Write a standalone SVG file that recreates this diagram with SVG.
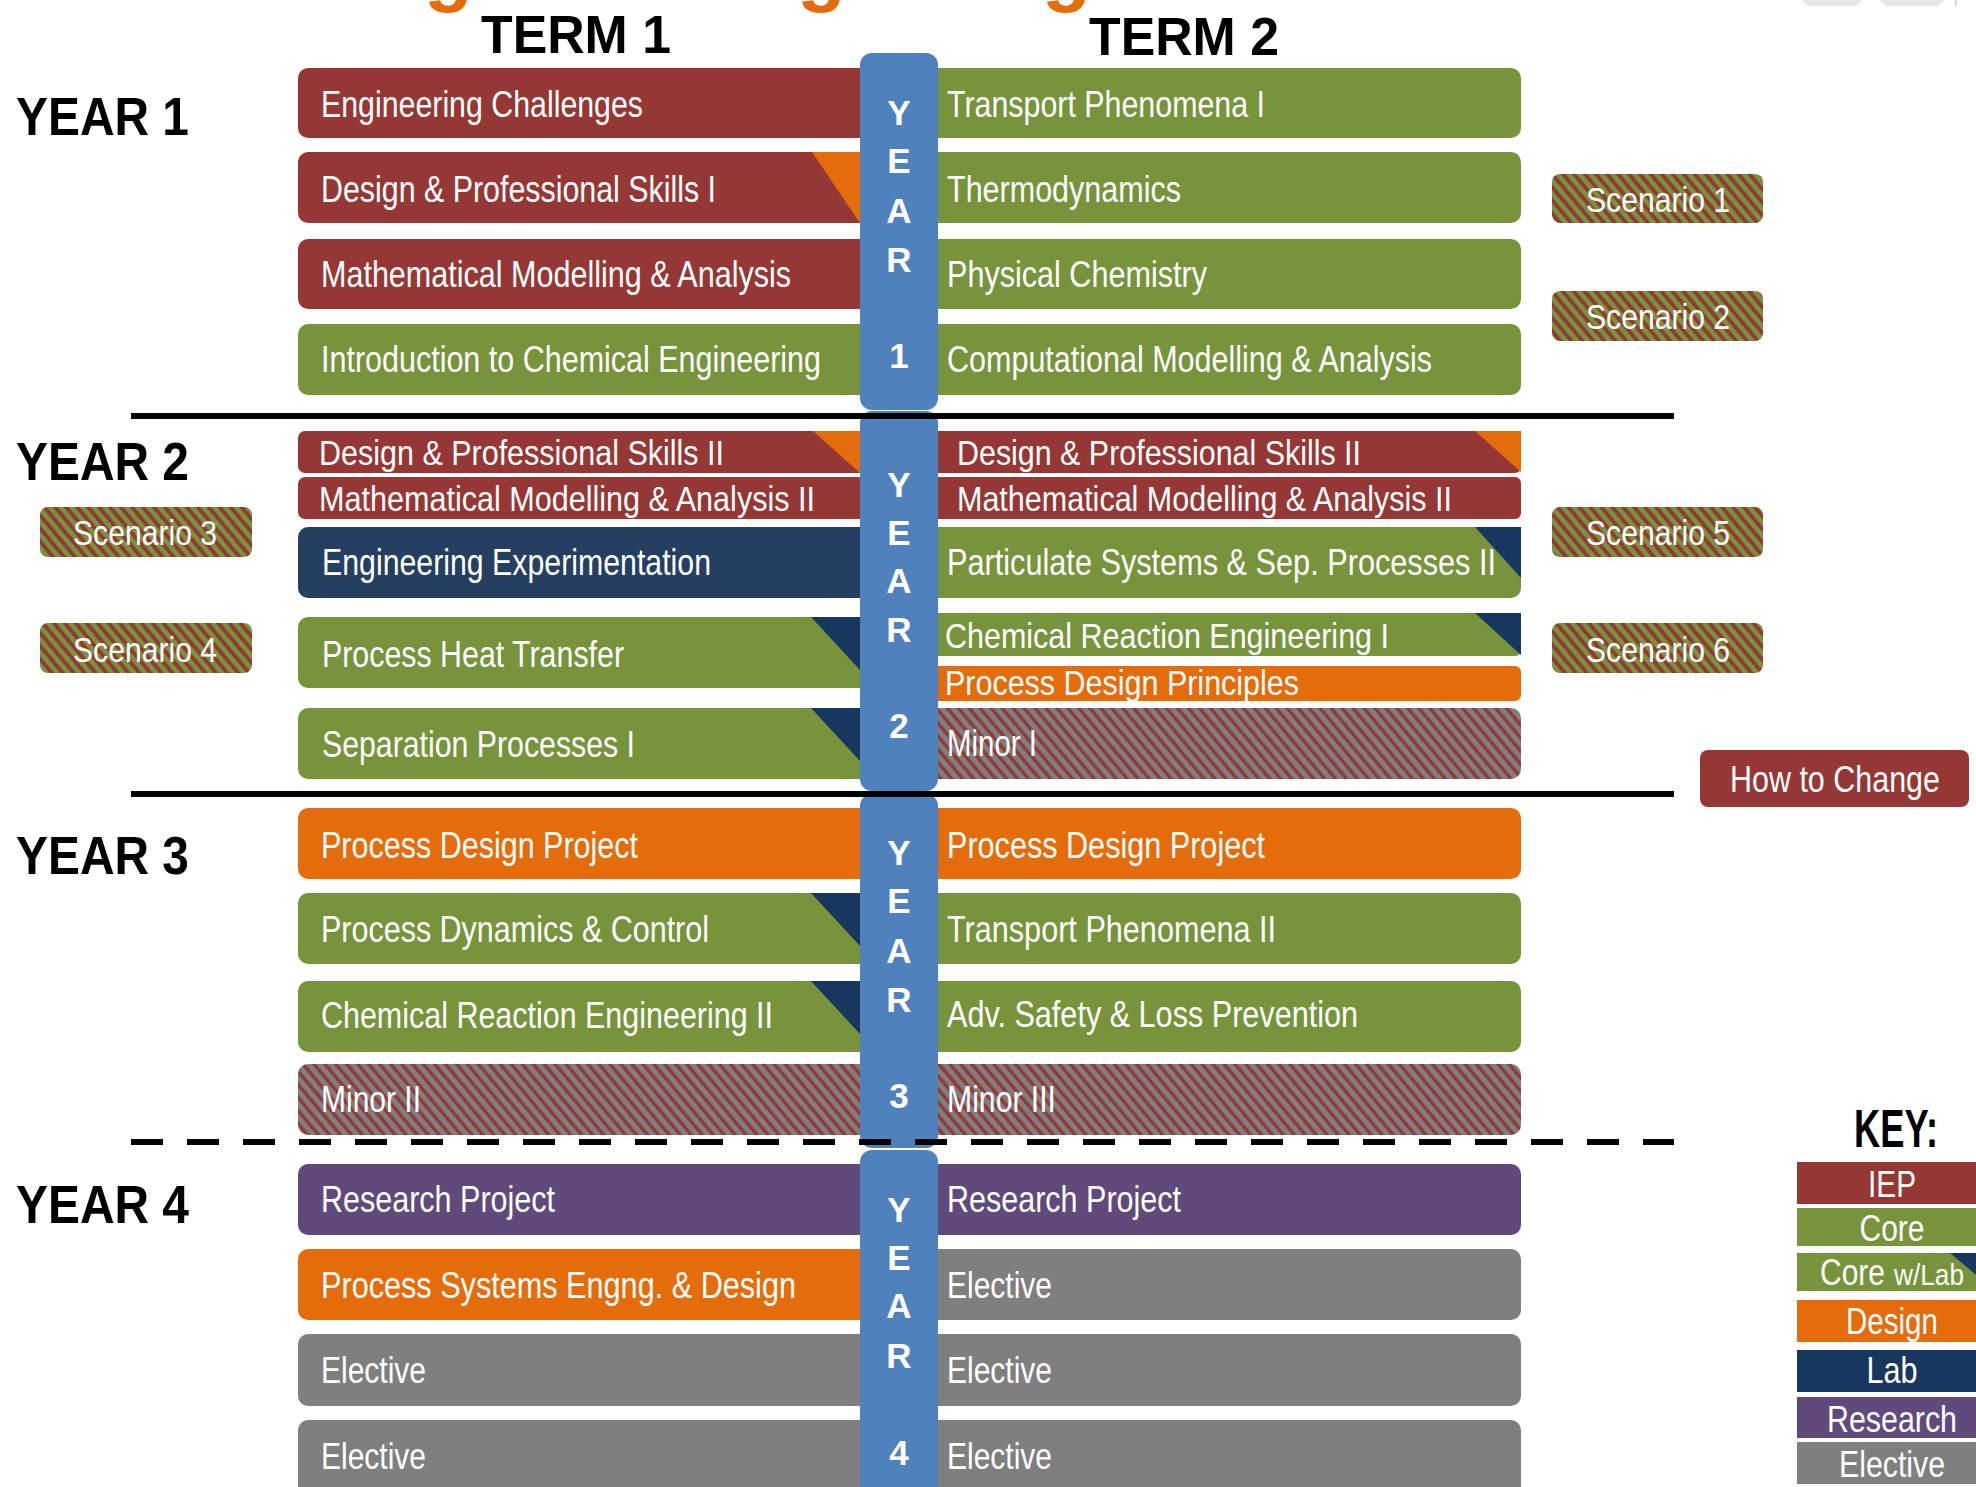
<svg xmlns="http://www.w3.org/2000/svg" width="1976" height="1487" viewBox="0 0 1976 1487">
<style>
.t{font-family:"Liberation Sans",Arial,sans-serif;fill:#fff;font-size:37px}
.s{font-size:35px}
.h{font-family:"Liberation Sans",Arial,sans-serif;font-weight:bold;fill:#000;font-size:53px}
.yl{font-family:"Liberation Sans",Arial,sans-serif;font-weight:bold;fill:#fff;font-size:35px;text-anchor:middle}
.kc{text-anchor:middle}
.red{fill:#953735}.grn{fill:#77933C}.org{fill:#E46C0A}.nav{fill:#17375E}.nav2{fill:#243F60}.pur{fill:#604A7B}.gry{fill:#7F7F7F}.col{fill:#4F81BD}
.sep{stroke:#000;stroke-width:6;fill:none}
</style>
<defs>
<pattern id="hMinor" patternUnits="userSpaceOnUse" width="8.4" height="10" patternTransform="rotate(-40)"><rect width="8.4" height="10" fill="#7F7F7F"/><rect width="3.4" height="10" fill="#953735"/></pattern>
<pattern id="hScen" patternUnits="userSpaceOnUse" width="8.4" height="10" patternTransform="rotate(-40)"><rect width="8.4" height="10" fill="#77933C"/><rect width="3.8" height="10" fill="#953735"/></pattern>
</defs>
<rect width="1976" height="1487" fill="#fff"/>
<!-- partial title glyphs and UI remnants at top -->
<g id="title-fragment" fill="#E46C0A" font-family="Liberation Sans,Arial,sans-serif" font-weight="bold" font-size="80">
<text x="424" y="-4">g</text><text x="797" y="-4">g</text><text x="1042" y="-4">g</text>
</g>
<g id="top-ui" fill="#e6e6e6">
<path d="M1802 0 L1808 6 H1856 L1862 0Z"/><path d="M1880 0 L1886 6 H1938 L1944 0Z"/><rect x="1955" y="0" width="1.5" height="6" fill="#ccc"/>
</g>
<!-- headers -->
<g id="headers">
<text class="h" x="481" y="53" textLength="190" lengthAdjust="spacingAndGlyphs">TERM 1</text>
<text class="h" x="1089" y="55" textLength="190" lengthAdjust="spacingAndGlyphs">TERM 2</text>
<text class="h" x="16" y="135" textLength="173" lengthAdjust="spacingAndGlyphs">YEAR 1</text>
<text class="h" x="16" y="480" textLength="173" lengthAdjust="spacingAndGlyphs">YEAR 2</text>
<text class="h" x="16" y="874" textLength="173" lengthAdjust="spacingAndGlyphs">YEAR 3</text>
<text class="h" x="16" y="1223" textLength="173" lengthAdjust="spacingAndGlyphs">YEAR 4</text>
</g>
<!-- TERM 1 cards -->
<g id="y1t1-1"><rect class="red" x="298" y="68" width="590" height="70" rx="10"/><text class="t" x="321" y="117" textLength="322" lengthAdjust="spacingAndGlyphs">Engineering Challenges</text></g>
<g id="y1t1-2"><rect class="red" x="298" y="152" width="590" height="71" rx="10"/><polygon class="org" points="812,152 888,152 888,223 860,223"/><text class="t" x="321" y="202" textLength="395" lengthAdjust="spacingAndGlyphs">Design &amp; Professional Skills I</text></g>
<g id="y1t1-3"><rect class="red" x="298" y="239" width="590" height="70" rx="10"/><text class="t" x="321" y="287" textLength="470" lengthAdjust="spacingAndGlyphs">Mathematical Modelling &amp; Analysis</text></g>
<g id="y1t1-4"><rect class="grn" x="298" y="324" width="590" height="71" rx="10"/><text class="t" x="321" y="372" textLength="500" lengthAdjust="spacingAndGlyphs">Introduction to Chemical Engineering</text></g>

<g id="y2t1-1"><rect class="red" x="298" y="431" width="590" height="42" rx="7"/><polygon class="org" points="813,431 888,431 888,473 860,473"/><text class="t s" x="319" y="465" textLength="405" lengthAdjust="spacingAndGlyphs">Design &amp; Professional Skills II</text></g>
<g id="y2t1-2"><rect class="red" x="298" y="477" width="590" height="42" rx="7"/><text class="t s" x="319" y="511" textLength="496" lengthAdjust="spacingAndGlyphs">Mathematical Modelling &amp; Analysis II</text></g>
<g id="y2t1-3"><rect class="nav2" x="298" y="527" width="590" height="71" rx="10"/><text class="t" x="322" y="575" textLength="389" lengthAdjust="spacingAndGlyphs">Engineering Experimentation</text></g>
<g id="y2t1-4"><rect class="grn" x="298" y="617" width="590" height="71" rx="10"/><polygon class="nav" points="811,617 888,617 888,688 860,670"/><text class="t" x="322" y="667" textLength="302" lengthAdjust="spacingAndGlyphs">Process Heat Transfer</text></g>
<g id="y2t1-5"><rect class="grn" x="298" y="708" width="590" height="71" rx="10"/><polygon class="nav" points="811,708 888,708 888,779 860,761"/><text class="t" x="322" y="757" textLength="313" lengthAdjust="spacingAndGlyphs">Separation Processes I</text></g>

<g id="y3t1-1"><rect class="org" x="298" y="808" width="590" height="71" rx="10"/><text class="t" x="321" y="858" textLength="317" lengthAdjust="spacingAndGlyphs">Process Design Project</text></g>
<g id="y3t1-2"><rect class="grn" x="298" y="893" width="590" height="71" rx="10"/><polygon class="nav" points="811,893 888,893 888,964 860,946"/><text class="t" x="321" y="942" textLength="388" lengthAdjust="spacingAndGlyphs">Process Dynamics &amp; Control</text></g>
<g id="y3t1-3"><rect class="grn" x="298" y="981" width="590" height="71" rx="10"/><polygon class="nav" points="811,981 888,981 888,1052 860,1034"/><text class="t" x="321" y="1028" textLength="452" lengthAdjust="spacingAndGlyphs">Chemical Reaction Engineering II</text></g>
<g id="y3t1-4"><rect fill="url(#hMinor)" x="298" y="1064" width="590" height="71" rx="10"/><text class="t" x="321" y="1112" textLength="100" lengthAdjust="spacingAndGlyphs">Minor II</text></g>

<g id="y4t1-1"><rect class="pur" x="298" y="1164" width="590" height="71" rx="10"/><text class="t" x="321" y="1212" textLength="234" lengthAdjust="spacingAndGlyphs">Research Project</text></g>
<g id="y4t1-2"><rect class="org" x="298" y="1249" width="590" height="71" rx="10"/><text class="t" x="321" y="1298" textLength="475" lengthAdjust="spacingAndGlyphs">Process Systems Engng. &amp; Design</text></g>
<g id="y4t1-3"><rect class="gry" x="298" y="1334" width="590" height="72" rx="10"/><text class="t" x="321" y="1383" textLength="105" lengthAdjust="spacingAndGlyphs">Elective</text></g>
<g id="y4t1-4"><rect class="gry" x="298" y="1420" width="590" height="80" rx="10"/><text class="t" x="321" y="1469" textLength="105" lengthAdjust="spacingAndGlyphs">Elective</text></g>

<!-- TERM 2 cards -->
<g id="y1t2-1"><rect class="grn" x="910" y="68" width="611" height="70" rx="10"/><text class="t" x="947" y="117" textLength="318" lengthAdjust="spacingAndGlyphs">Transport Phenomena I</text></g>
<g id="y1t2-2"><rect class="grn" x="910" y="152" width="611" height="71" rx="10"/><text class="t" x="947" y="202" textLength="234" lengthAdjust="spacingAndGlyphs">Thermodynamics</text></g>
<g id="y1t2-3"><rect class="grn" x="910" y="239" width="611" height="70" rx="10"/><text class="t" x="947" y="287" textLength="260" lengthAdjust="spacingAndGlyphs">Physical Chemistry</text></g>
<g id="y1t2-4"><rect class="grn" x="910" y="324" width="611" height="71" rx="10"/><text class="t" x="947" y="372" textLength="485" lengthAdjust="spacingAndGlyphs">Computational Modelling &amp; Analysis</text></g>

<g id="y2t2-1"><rect class="red" x="910" y="431" width="611" height="42" rx="6"/><polygon class="org" points="1475,431 1521,431 1521,472"/><text class="t s" x="957" y="465" textLength="404" lengthAdjust="spacingAndGlyphs">Design &amp; Professional Skills II</text></g>
<g id="y2t2-2"><rect class="red" x="910" y="477" width="611" height="42" rx="6"/><text class="t s" x="957" y="511" textLength="495" lengthAdjust="spacingAndGlyphs">Mathematical Modelling &amp; Analysis II</text></g>
<g id="y2t2-3"><rect class="grn" x="910" y="527" width="611" height="71" rx="10"/><polygon class="nav" points="1475,527 1521,527 1521,578"/><text class="t" x="947" y="575" textLength="549" lengthAdjust="spacingAndGlyphs">Particulate Systems &amp; Sep. Processes II</text></g>
<g id="y2t2-4"><rect class="grn" x="910" y="613" width="611" height="43" rx="6"/><polygon class="nav" points="1475,613 1521,613 1521,655"/><text class="t s" x="945" y="648" textLength="444" lengthAdjust="spacingAndGlyphs">Chemical Reaction Engineering I</text></g>
<g id="y2t2-5"><rect class="org" x="910" y="666" width="611" height="35" rx="6"/><text class="t s" x="945" y="695" textLength="354" lengthAdjust="spacingAndGlyphs">Process Design Principles</text></g>
<g id="y2t2-6"><rect fill="url(#hMinor)" x="910" y="708" width="611" height="71" rx="10"/><text class="t" x="947" y="756" textLength="90" lengthAdjust="spacingAndGlyphs">Minor I</text></g>

<g id="y3t2-1"><rect class="org" x="910" y="808" width="611" height="71" rx="10"/><text class="t" x="947" y="858" textLength="318" lengthAdjust="spacingAndGlyphs">Process Design Project</text></g>
<g id="y3t2-2"><rect class="grn" x="910" y="893" width="611" height="71" rx="10"/><text class="t" x="947" y="942" textLength="329" lengthAdjust="spacingAndGlyphs">Transport Phenomena II</text></g>
<g id="y3t2-3"><rect class="grn" x="910" y="981" width="611" height="71" rx="10"/><text class="t" x="947" y="1027" textLength="411" lengthAdjust="spacingAndGlyphs">Adv. Safety &amp; Loss Prevention</text></g>
<g id="y3t2-4"><rect fill="url(#hMinor)" x="910" y="1064" width="611" height="71" rx="10"/><text class="t" x="947" y="1112" textLength="109" lengthAdjust="spacingAndGlyphs">Minor III</text></g>

<g id="y4t2-1"><rect class="pur" x="910" y="1164" width="611" height="71" rx="10"/><text class="t" x="947" y="1212" textLength="234" lengthAdjust="spacingAndGlyphs">Research Project</text></g>
<g id="y4t2-2"><rect class="gry" x="910" y="1249" width="611" height="71" rx="10"/><text class="t" x="947" y="1298" textLength="105" lengthAdjust="spacingAndGlyphs">Elective</text></g>
<g id="y4t2-3"><rect class="gry" x="910" y="1334" width="611" height="72" rx="10"/><text class="t" x="947" y="1383" textLength="105" lengthAdjust="spacingAndGlyphs">Elective</text></g>
<g id="y4t2-4"><rect class="gry" x="910" y="1420" width="611" height="80" rx="10"/><text class="t" x="947" y="1469" textLength="105" lengthAdjust="spacingAndGlyphs">Elective</text></g>

<!-- year columns -->
<g id="year1-col"><rect class="col" x="860" y="53" width="78" height="357" rx="12"/>
<text class="yl" x="899" y="125">Y</text><text class="yl" x="899" y="173">E</text><text class="yl" x="899" y="223">A</text><text class="yl" x="899" y="272">R</text><text class="yl" x="899" y="368">1</text></g>
<g id="year2-col"><rect class="col" x="860" y="411" width="78" height="380" rx="12"/>
<text class="yl" x="899" y="497">Y</text><text class="yl" x="899" y="545">E</text><text class="yl" x="899" y="593">A</text><text class="yl" x="899" y="642">R</text><text class="yl" x="899" y="738">2</text></g>
<g id="year3-col"><rect class="col" x="860" y="794" width="78" height="354" rx="12"/>
<text class="yl" x="899" y="865">Y</text><text class="yl" x="899" y="913">E</text><text class="yl" x="899" y="963">A</text><text class="yl" x="899" y="1012">R</text><text class="yl" x="899" y="1108">3</text></g>
<g id="year4-col"><rect class="col" x="860" y="1150" width="78" height="360" rx="12"/>
<text class="yl" x="899" y="1222">Y</text><text class="yl" x="899" y="1270">E</text><text class="yl" x="899" y="1318">A</text><text class="yl" x="899" y="1368">R</text><text class="yl" x="899" y="1465">4</text></g>

<!-- separators -->
<g id="connectors">
<line class="sep" x1="131" y1="416" x2="1674" y2="416"/>
<line class="sep" x1="131" y1="794" x2="1674" y2="794"/>
<line class="sep" x1="131" y1="1142" x2="1674" y2="1142" stroke-width="8" stroke-dasharray="32 24"/>
</g>

<!-- scenarios -->
<g id="scenario1"><rect fill="url(#hScen)" x="1552" y="174" width="211" height="49" rx="8"/><text class="t s" x="1586" y="212" textLength="144" lengthAdjust="spacingAndGlyphs">Scenario 1</text></g>
<g id="scenario2"><rect fill="url(#hScen)" x="1552" y="291" width="211" height="50" rx="8"/><text class="t s" x="1586" y="329" textLength="144" lengthAdjust="spacingAndGlyphs">Scenario 2</text></g>
<g id="scenario3"><rect fill="url(#hScen)" x="40" y="507" width="212" height="50" rx="8"/><text class="t s" x="73" y="545" textLength="144" lengthAdjust="spacingAndGlyphs">Scenario 3</text></g>
<g id="scenario4"><rect fill="url(#hScen)" x="40" y="623" width="212" height="50" rx="8"/><text class="t s" x="73" y="662" textLength="144" lengthAdjust="spacingAndGlyphs">Scenario 4</text></g>
<g id="scenario5"><rect fill="url(#hScen)" x="1552" y="507" width="211" height="50" rx="8"/><text class="t s" x="1586" y="545" textLength="144" lengthAdjust="spacingAndGlyphs">Scenario 5</text></g>
<g id="scenario6"><rect fill="url(#hScen)" x="1552" y="623" width="211" height="50" rx="8"/><text class="t s" x="1586" y="662" textLength="144" lengthAdjust="spacingAndGlyphs">Scenario 6</text></g>
<g id="how-to-change"><rect class="red" x="1700" y="750" width="269" height="57" rx="8"/><text class="t" x="1730" y="792" textLength="210" lengthAdjust="spacingAndGlyphs">How to Change</text></g>

<!-- key -->
<g id="key">
<text class="h" x="1854" y="1147" font-size="35" textLength="84" lengthAdjust="spacingAndGlyphs">KEY:</text>
<rect class="red" x="1797" y="1162" width="195" height="42"/><text class="t kc" x="1892" y="1197" textLength="48" lengthAdjust="spacingAndGlyphs">IEP</text>
<rect class="grn" x="1797" y="1208" width="195" height="38"/><text class="t kc" x="1892" y="1241" textLength="65" lengthAdjust="spacingAndGlyphs">Core</text>
<rect class="grn" x="1797" y="1253" width="195" height="38"/><polygon class="nav" points="1950,1253 1992,1253 1992,1288"/>
<text class="t" x="1820" y="1285"><tspan textLength="65" lengthAdjust="spacingAndGlyphs">Core</tspan><tspan x="1894" font-size="29" textLength="70" lengthAdjust="spacingAndGlyphs">w/Lab</tspan></text>
<rect class="org" x="1797" y="1300" width="195" height="42"/><text class="t kc" x="1892" y="1334" textLength="92" lengthAdjust="spacingAndGlyphs">Design</text>
<rect class="nav" x="1797" y="1350" width="195" height="42"/><text class="t kc" x="1892" y="1383" textLength="51" lengthAdjust="spacingAndGlyphs">Lab</text>
<rect class="pur" x="1797" y="1397" width="195" height="41"/><text class="t kc" x="1892" y="1432" textLength="130" lengthAdjust="spacingAndGlyphs">Research</text>
<rect class="gry" x="1797" y="1442" width="195" height="42"/><text class="t kc" x="1892" y="1477" textLength="106" lengthAdjust="spacingAndGlyphs">Elective</text>
</g>
</svg>
